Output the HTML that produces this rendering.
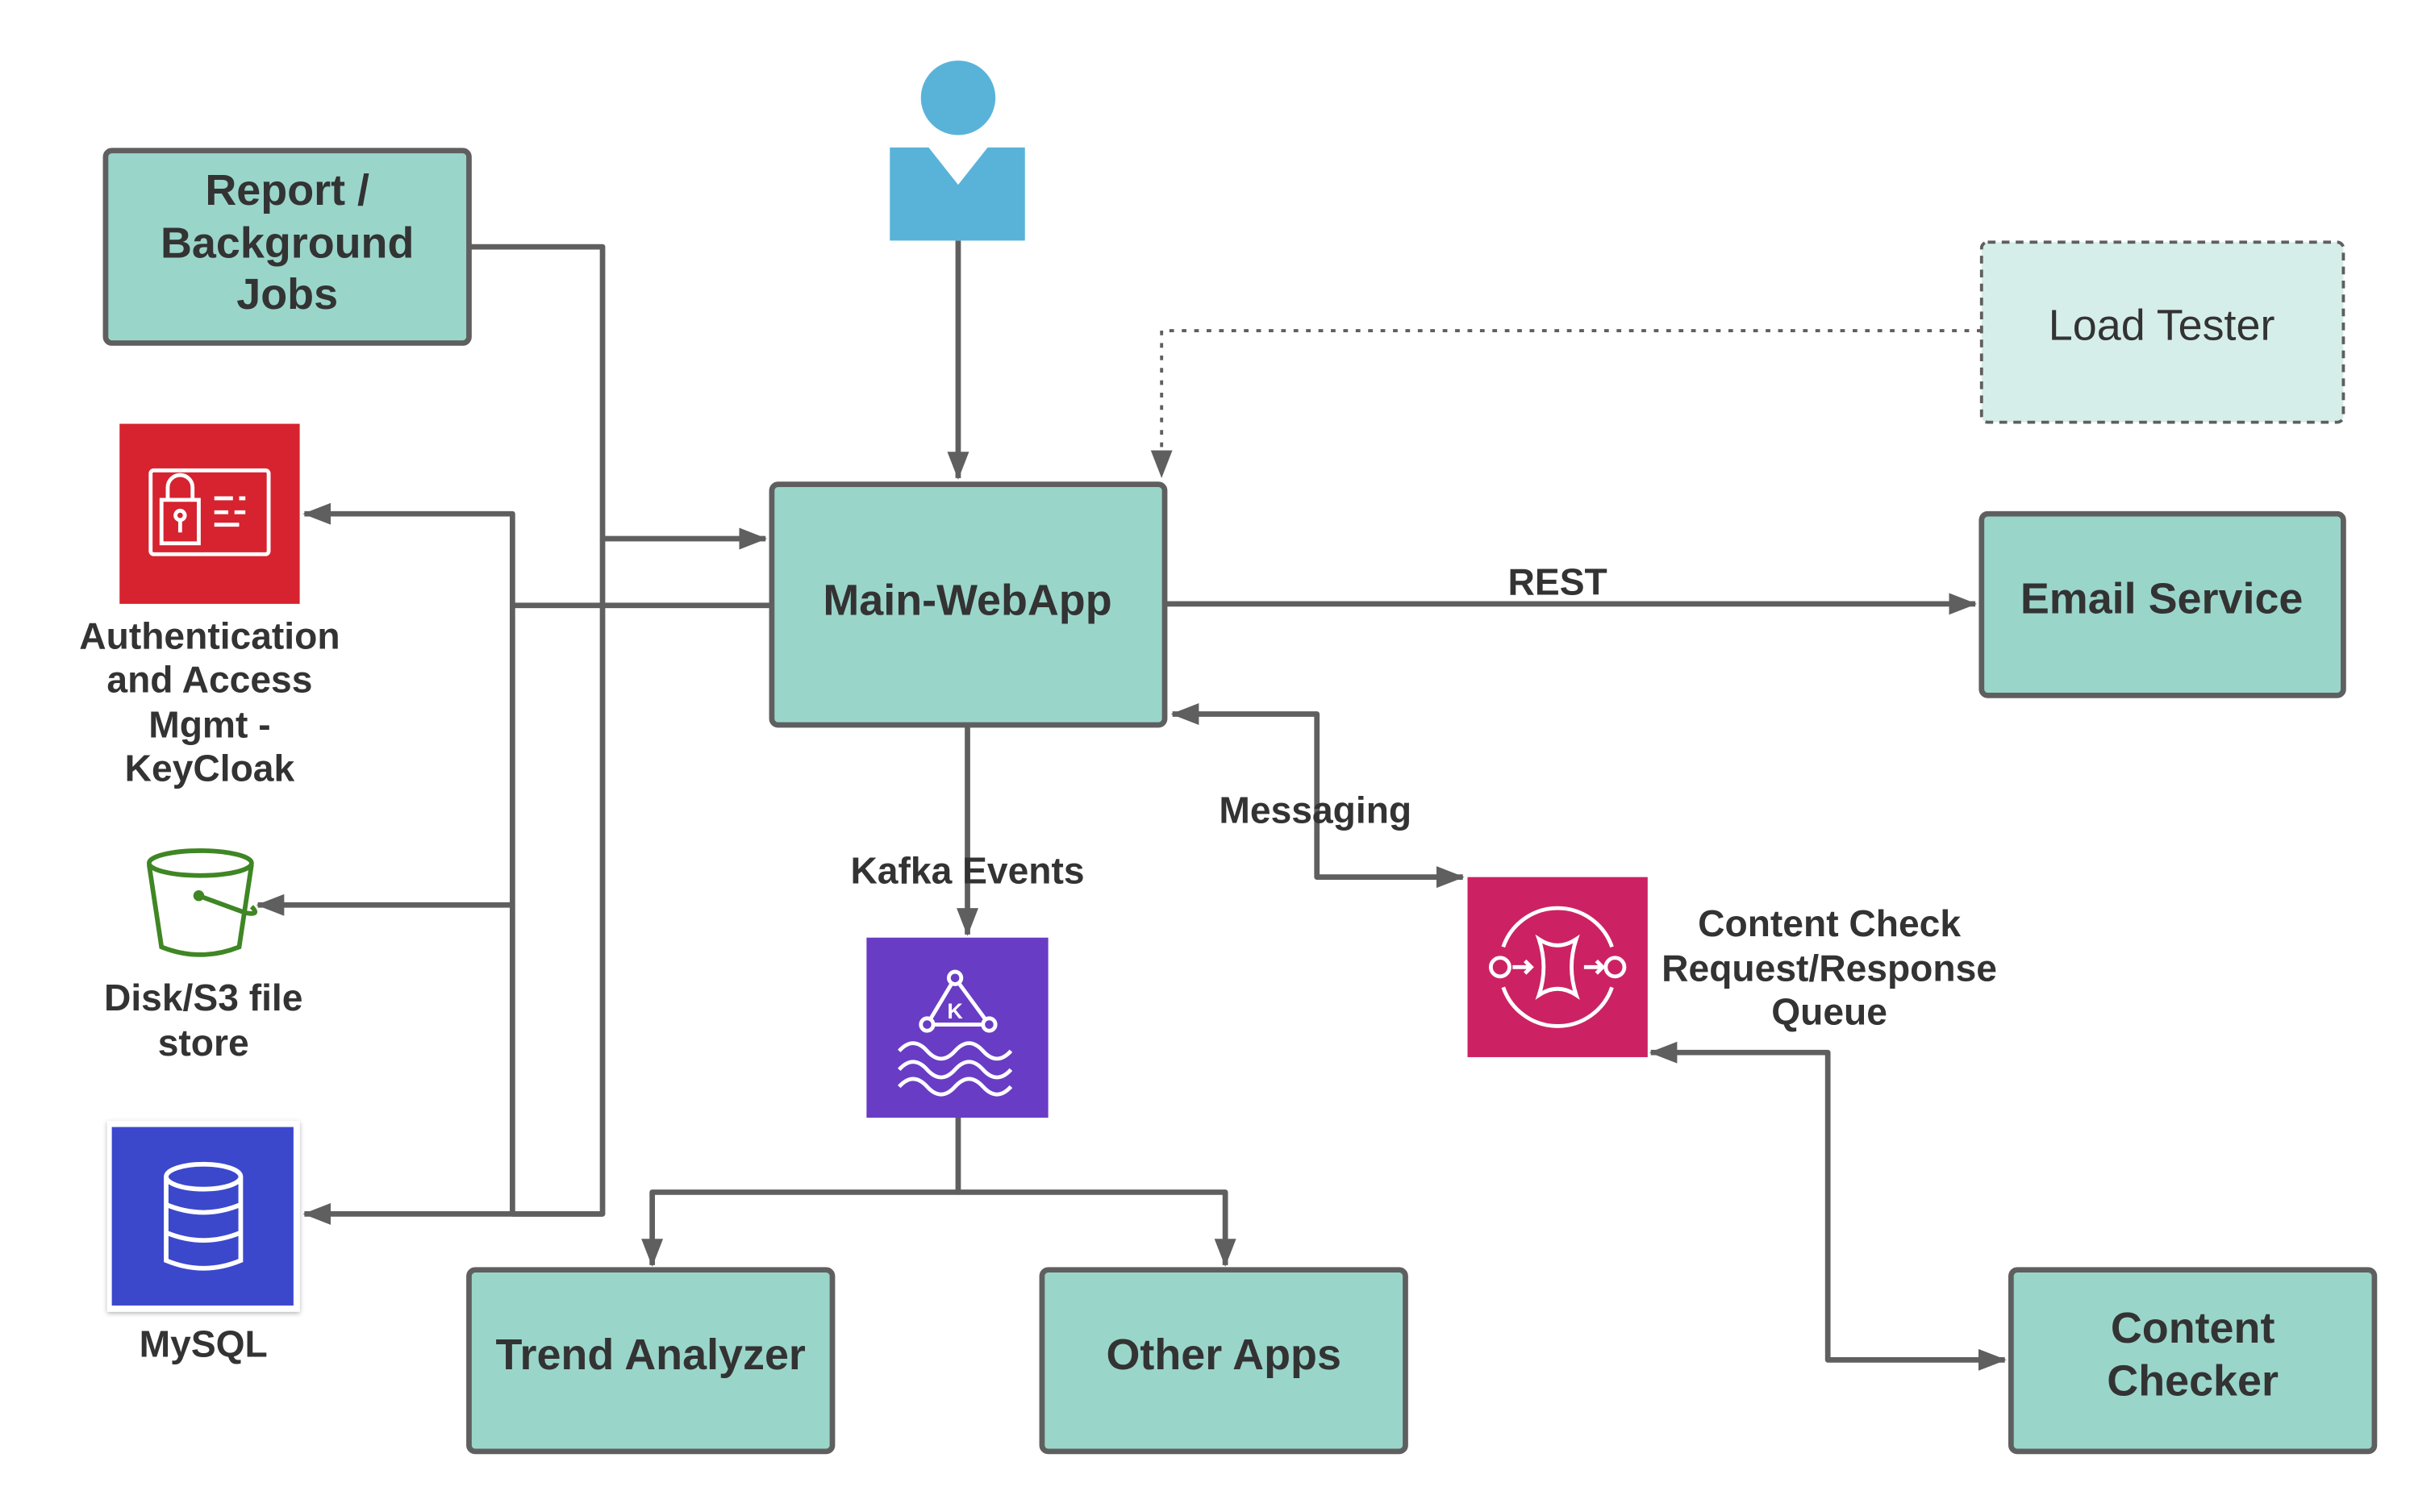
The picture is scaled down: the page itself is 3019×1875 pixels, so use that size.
<!DOCTYPE html>
<html><head><meta charset="utf-8"><style>
html,body{margin:0;padding:0;background:#fff;}
svg{display:block;}
text{font-family:"Liberation Sans",sans-serif;fill:#333;text-anchor:middle;}
.b{font-weight:bold;}
</style></head><body>
<svg width="3019" height="1875" viewBox="0 0 1568 974" preserveAspectRatio="none" xmlns="http://www.w3.org/2000/svg">
<defs>
<marker id="a" markerWidth="18" markerHeight="14" refX="17" refY="7" orient="auto" markerUnits="userSpaceOnUse">
<path d="M0,0 L18,7 L0,14 Z" fill="#5f5f5f"/></marker>
<marker id="as" markerWidth="18" markerHeight="14" refX="1" refY="7" orient="auto" markerUnits="userSpaceOnUse">
<path d="M18,0 L0,7 L18,14 Z" fill="#5f5f5f"/></marker>
<filter id="sh" x="-10%" y="-10%" width="120%" height="120%"><feDropShadow dx="0" dy="1" stdDeviation="1.5" flood-opacity="0.3"/></filter>
</defs>
<g fill="none" stroke="#5f5f5f" stroke-width="3.5" stroke-linejoin="round">
<path d="M617,155 V308" marker-end="url(#a)"/>
<path d="M302,159 H388 V347 H493" marker-end="url(#a)"/>
<path d="M388,347 V782 H196" marker-end="url(#a)"/>
<path d="M497,390 H330 V331 H196" marker-end="url(#a)"/>
<path d="M330,390 V583 H166" marker-end="url(#a)"/>
<path d="M330,583 V782 H388"/>
<path d="M1276,213 H748 V307" stroke-width="2" stroke-dasharray="3,5" marker-end="url(#a)"/>
<path d="M750,389 H1272" marker-end="url(#a)"/>
<path d="M755,460 H848 V565 H942" marker-start="url(#as)" marker-end="url(#a)"/>
<path d="M623,467 V602" marker-end="url(#a)"/>
<path d="M617,720 V768 H420 V815" marker-end="url(#a)"/>
<path d="M617,768 H789 V815" marker-end="url(#a)"/>
<path d="M1063,678 H1177 V876 H1291" marker-start="url(#as)" marker-end="url(#a)"/>
</g>
<circle cx="617" cy="63" r="24" fill="#59b3d9"/>
<path d="M573,95 H598 L617,119 L636,95 H660 V155 H573 Z" fill="#59b3d9"/>
<g fill="#9ad5ca" stroke="#5f5f5f" stroke-width="3.5">
<rect x="68" y="97" width="234" height="124" rx="4"/>
<rect x="497" y="312" width="253" height="155" rx="4"/>
<rect x="1276" y="331" width="233" height="117" rx="4"/>
<rect x="302" y="818" width="234" height="117" rx="4"/>
<rect x="671" y="818" width="234" height="117" rx="4"/>
<rect x="1295" y="818" width="234" height="117" rx="4"/>
</g>
<rect x="1276" y="156" width="233" height="116" rx="4" fill="#d6eeea" stroke="#5f5f5f" stroke-width="2" stroke-dasharray="5,4"/>
<g font-size="28">
<text class="b" x="185" y="132">Report /</text>
<text class="b" x="185" y="166">Background</text>
<text class="b" x="185" y="199">Jobs</text>
<text class="b" x="623" y="396">Main-WebApp</text>
<text class="b" x="1392" y="395">Email Service</text>
<text class="b" x="419" y="882">Trend Analyzer</text>
<text class="b" x="788" y="882">Other Apps</text>
<text class="b" x="1412" y="865">Content</text>
<text class="b" x="1412" y="899">Checker</text>
<text x="1392" y="219">Load Tester</text>
</g>
<g font-size="24">
<text class="b" x="1003" y="383">REST</text>
<text class="b" x="847" y="530">Messaging</text>
<text class="b" x="623" y="569">Kafka Events</text>
<text class="b" x="1178" y="603">Content Check</text>
<text class="b" x="1178" y="632">Request/Response</text>
<text class="b" x="1178" y="660">Queue</text>
<text class="b" x="135" y="418">Authentication</text>
<text class="b" x="135" y="446">and Access</text>
<text class="b" x="135" y="475">Mgmt -</text>
<text class="b" x="135" y="503">KeyCloak</text>
<text class="b" x="131" y="651">Disk/S3 file</text>
<text class="b" x="131" y="680">store</text>
<text class="b" x="131" y="874">MySQL</text>
</g>
<rect x="77" y="273" width="116" height="116" fill="#d6232f"/>
<g fill="none" stroke="#fff" stroke-width="2.5">
<rect x="97" y="303" width="76" height="54" rx="2"/>
<rect x="104" y="322" width="24" height="28"/>
<path d="M108,322 V314 a8,8 0 0 1 16,0 V322"/>
<circle cx="116" cy="332" r="3"/><path d="M116,335 V343"/>
<path d="M138,321 H150 M154,321 H158 M138,330 H147 M151,330 H158 M138,338 H154"/>
</g>
<g fill="none" stroke="#3f8624" stroke-width="3">
<ellipse cx="129" cy="556" rx="33" ry="8"/>
<path d="M96,557 L104,610 Q129,620 154,610 L162,557"/>
<circle cx="128" cy="577" r="2" fill="#3f8624"/>
<path d="M128,577 L158,588 Q168,590 162,584"/>
</g>
<rect x="69" y="722" width="124" height="123" fill="#fff" filter="url(#sh)"/>
<rect x="72" y="726" width="117" height="115" fill="#3b48cc"/>
<g fill="none" stroke="#fff" stroke-width="3">
<ellipse cx="131" cy="758" rx="24" ry="8"/>
<path d="M107,758 V812 Q131,822 155,812 V758 M107,776 Q131,786 155,776 M107,794 Q131,804 155,794"/>
</g>
<rect x="558" y="604" width="117" height="116" fill="#693cc5"/>
<g fill="none" stroke="#fff" stroke-width="2.5">
<path d="M615,630 L597,660 H637 Z"/>
<circle cx="615" cy="630" r="4" fill="#693cc5"/><circle cx="597" cy="660" r="4" fill="#693cc5"/><circle cx="637" cy="660" r="4" fill="#693cc5"/>
<path d="M579,677 q9,-10 18,0 t18,0 t18,0 t18,0 M579,689 q9,-10 18,0 t18,0 t18,0 t18,0 M579,700 q9,-10 18,0 t18,0 t18,0 t18,0"/>
</g>
<text x="615" y="656" font-size="14" font-weight="bold" style="fill:#fff">K</text>
<rect x="945" y="565" width="116" height="116" fill="#cc2264"/>
<g fill="none" stroke="#fff" stroke-width="2.5">
<path d="M968,610 A37,37 0 0 1 1038,610 M968,636 A37,37 0 0 0 1038,636"/>
<circle cx="966" cy="623" r="6"/><circle cx="1040" cy="623" r="6"/>
<path d="M974,623 H986 M982,619 L986,623 L982,627 M1020,623 H1032 M1028,619 L1032,623 L1028,627"/>
<path d="M991,605 Q1003,613 1015,605 Q1009,623 1015,641 Q1003,633 991,641 Q997,623 991,605 Z"/>
</g>
</svg>
</body></html>
